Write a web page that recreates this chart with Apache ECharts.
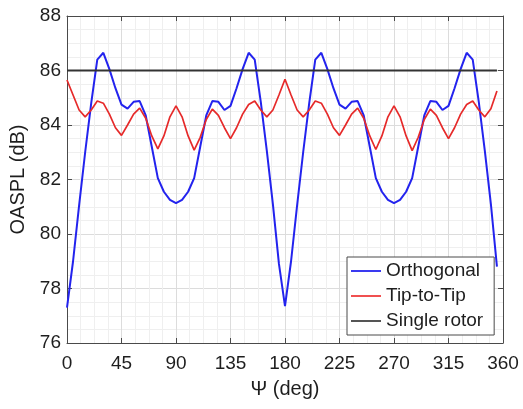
<!DOCTYPE html>
<html><head><meta charset="utf-8">
<script src="https://cdn.jsdelivr.net/npm/echarts@6/dist/echarts.min.js"></script>
<style>html,body{margin:0;padding:0;background:#fff}#c{width:523px;height:409px}</style>
</head><body><div id="c"></div>
<script>
// Azimuth angles (deg)
const angles = [0,5,10,15,20,25,30,35,40,45,50,55,60,65,70,75,80,85,90,95,100,105,110,115,120,125,130,135,140,145,150,155,160,165,170,175,
  180,185,190,195,200,205,210,215,220,225,230,235,240,245,250,255,260,265,270,275,280,285,290,295,300,305,310,315,320,325,330,335,340,345,350,355];
// OASPL (dB)
const orthogonal = [77.3,79.0,81.05,83.0,84.8,86.4,86.65,86.05,85.35,84.75,84.6,84.85,84.88,84.35,83.2,82.05,81.55,81.25,81.13,81.25,81.55,82.05,83.2,84.35,84.88,84.85,84.55,84.7,85.35,86.05,86.65,86.4,84.85,83.05,81.1,78.9,
  77.35,79.0,81.05,83.0,84.8,86.4,86.65,86.05,85.35,84.75,84.6,84.85,84.88,84.35,83.2,82.05,81.55,81.25,81.13,81.25,81.55,82.05,83.2,84.35,84.88,84.85,84.55,84.7,85.35,86.05,86.65,86.4,84.85,83.05,81.1,78.8];
const tipToTip = [85.65,85.1,84.55,84.3,84.55,84.88,84.8,84.4,83.9,83.62,84.0,84.4,84.62,84.25,83.6,83.12,83.6,84.3,84.7,84.3,83.6,83.08,83.55,84.2,84.58,84.35,83.9,83.5,83.9,84.4,84.75,84.88,84.55,84.3,84.55,85.1,
  85.68,85.1,84.55,84.3,84.55,84.88,84.8,84.4,83.9,83.62,84.0,84.4,84.62,84.25,83.6,83.1,83.6,84.3,84.7,84.3,83.6,83.06,83.55,84.2,84.58,84.35,83.9,83.5,83.9,84.4,84.75,84.88,84.55,84.3,84.6,85.25];
const singleRotorAngles = [0, 355];
const singleRotor = [86, 86];
const seriesNames = ['Orthogonal', 'Tip-to-Tip', 'Single rotor'];

const zip = (xs, ys) => xs.map((x, i) => [x, ys[i]]);
const FONT = '"Liberation Sans", Arial, sans-serif';
const AX = '#4a4a4a';
const TXT = '#1e1e1e';

function baseAxis(extra) {
  return Object.assign({
    type: 'value',
    axisLine: { show: true, onZero: false, lineStyle: { color: AX, width: 1 } },
    axisTick: { show: true, inside: true, length: 5, lineStyle: { color: AX } },
    splitLine: { show: false },
    minorTick: { show: false, splitNumber: 4 },
    minorSplitLine: { show: false }
  }, extra);
}

const chart = echarts.init(document.getElementById('c'), null, { renderer: 'canvas' });
chart.setOption({
  animation: false,
  backgroundColor: '#fff',
  textStyle: { fontFamily: FONT },
  grid: { left: 67, right: 20, top: 16, bottom: 66 },
  xAxis: [
    baseAxis({
      min: 0, max: 360, interval: 45, position: 'bottom',
      name: 'Ψ (deg)', nameLocation: 'middle', nameGap: 36,
      nameTextStyle: { fontSize: 20, color: TXT, fontFamily: FONT },
      axisLabel: { fontSize: 19, margin: 11, color: TXT, fontFamily: FONT },
      splitLine: { show: true, lineStyle: { color: '#dcdcdc', width: 1 } },
      minorSplitLine: { show: true, lineStyle: { color: '#efefef', width: 1 } }
    }),
    baseAxis({ min: 0, max: 360, interval: 45, position: 'top', axisLabel: { show: false } })
  ],
  yAxis: [
    baseAxis({
      min: 76, max: 88, interval: 2, position: 'left',
      name: 'OASPL (dB)', nameLocation: 'middle', nameGap: 38, nameRotate: 90,
      nameTextStyle: { fontSize: 20, color: TXT, fontFamily: FONT },
      axisLabel: { fontSize: 19, margin: 6, color: TXT, fontFamily: FONT },
      splitLine: { show: true, lineStyle: { color: '#dcdcdc', width: 1 } },
      minorSplitLine: { show: true, lineStyle: { color: '#efefef', width: 1 } }
    }),
    baseAxis({ min: 76, max: 88, interval: 2, position: 'right', axisLabel: { show: false } })
  ],
  legend: {
    orient: 'vertical', left: 347, top: 257,
    icon: 'rect',
    itemWidth: 30, itemHeight: 2, itemGap: 5,
    padding: [4, 11, 4, 4],
    borderColor: AX, borderWidth: 1, backgroundColor: '#fff',
    textStyle: { fontSize: 19, lineHeight: 20, color: TXT, fontFamily: FONT },
    data: seriesNames
  },
  series: [
    { name: seriesNames[0], type: 'line', data: zip(angles, orthogonal), symbol: 'none', showSymbol: false,
      lineStyle: { color: '#2323ee', width: 2 }, itemStyle: { color: '#3a3af0' } },
    { name: seriesNames[1], type: 'line', data: zip(angles, tipToTip), symbol: 'none', showSymbol: false,
      lineStyle: { color: '#e62a2a', width: 1.7 }, itemStyle: { color: '#f05050' } },
    { name: seriesNames[2], type: 'line', data: zip(singleRotorAngles, singleRotor), symbol: 'none', showSymbol: false,
      lineStyle: { color: '#333333', width: 2 }, itemStyle: { color: '#555555' } }
  ]
});
</script>
</body></html>
